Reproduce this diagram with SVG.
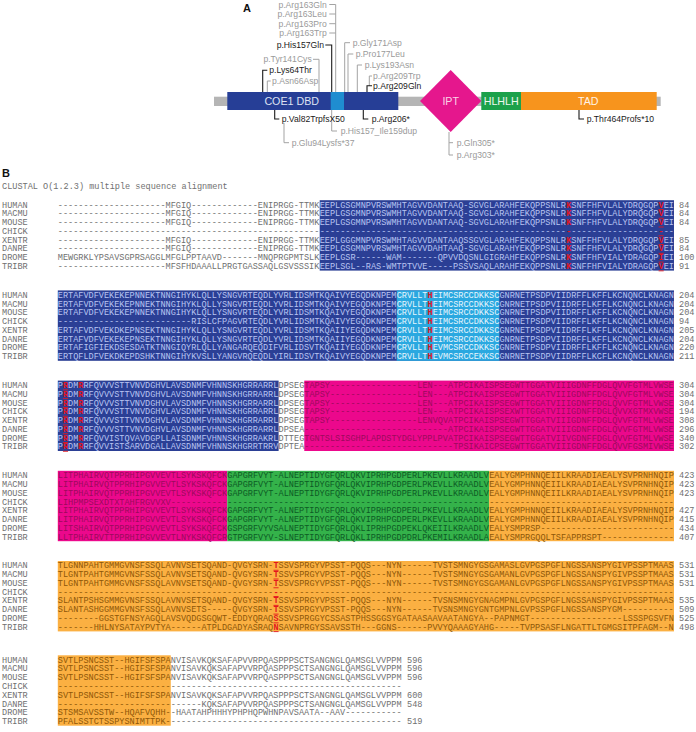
<svg xmlns="http://www.w3.org/2000/svg" width="696" height="732" viewBox="0 0 696 732">
<style>
.sq{font-family:"Liberation Mono","Courier New",monospace;font-size:8.56px;fill:#707070}
.b{fill:#b8c4f2}.c{fill:#e6f5fd}.m{fill:#9c0a5c}.g{fill:#0d5b25}.o{fill:#8e5708}
.r{fill:#e3161e;font-weight:bold}
.mut{font-family:"Liberation Sans",Arial,sans-serif;font-size:8.6px}
.gy{fill:#9a9a9a}.bk{fill:#1a1a1a}
.lg{stroke:#a3a3a3;stroke-width:1;fill:none}
.lk{stroke:#1a1a1a;stroke-width:1.1;fill:none}
.dom{font-family:"Liberation Sans",Arial,sans-serif;font-size:10.7px;text-anchor:middle}
.hd{font-family:"Liberation Sans",Arial,sans-serif;font-size:11px;font-weight:bold;fill:#111}
.bg1{fill:#2b3f95}.bg2{fill:#2aa8e0}.bg3{fill:#ec088c}.bg4{fill:#34b24a}.bg5{fill:#fbb042}
.ul{fill:#e3161e}
</style>
<text class="hd" x="243" y="12">A</text>
<g id="protein">
<rect id="backbone" x="214" y="96.7" width="446.7" height="9.3" fill="#b5b5b5"/>
<g id="dbd"><rect x="227.3" y="92" width="171" height="18" fill="#263e96"/><rect x="330.7" y="92" width="13.3" height="18" fill="#1f8dd0"/><text class="dom" x="291.7" y="104.8" fill="#dde2f3">COE1 DBD</text></g>
<g id="ipt"><polygon points="420,101 450.7,70 481.3,101 450.7,132" fill="#e5178d"/><text class="dom" x="450.7" y="104.8" fill="#f9d3e8">IPT</text></g>
<g id="hlh"><rect x="481.3" y="92" width="39.7" height="18" fill="#1ca14b"/><text class="dom" x="501.2" y="104.8" fill="#eef8f0">HLHLH</text></g>
<g id="tad"><rect x="521" y="92" width="135.7" height="18" fill="#f7941d"/><text class="dom" x="588.3" y="104.8" fill="#fff3e6">TAD</text></g>
</g>
<g id="connectors">
<path class="lg" d="M335.7 4.5V92M329.3 4.5H335.7M329.3 14H335.7M329.3 23.7H335.7M329.3 33H335.7"/>
<path class="lk" d="M325.3 45H331.7V92"/>
<path class="lg" d="M313 59.3H319V92"/>
<path class="lk" d="M267.3 70.3H262.7V92"/>
<path class="lg" d="M270.7 81H267.3V92"/>
<path class="lg" d="M350 42.7H344.7V92"/>
<path class="lg" d="M353.3 54H348V92"/>
<path class="lg" d="M362 65H357.3V92"/>
<path class="lg" d="M372 76H369.3V86"/>
<path class="lk" d="M372 85.7H367V92"/>
<path class="lk" d="M274.7 110V119H279.3"/>
<path class="lg" d="M284 123V142.7H289"/>
<path class="lg" d="M331.7 110V131H337"/>
<path class="lk" d="M363.3 110V119H368.3"/>
<path class="lg" d="M449 132V155H453M449 142.7H453"/>
<path class="lk" d="M579 110V119H584"/>
</g>
<g id="mutations" class="mut">
<text class="gy" x="326.7" y="7.6" text-anchor="end">p.Arg163Gln</text>
<text class="gy" x="326.7" y="17.1" text-anchor="end">p.Arg163Leu</text>
<text class="gy" x="326.7" y="26.8" text-anchor="end">p.Arg163Pro</text>
<text class="gy" x="326.7" y="36.1" text-anchor="end">p.Arg163Trp</text>
<text class="bk" x="324" y="48.1" text-anchor="end">p.His157Gln</text>
<text class="gy" x="311.7" y="62.4" text-anchor="end">p.Tyr141Cys</text>
<text class="bk" x="269.3" y="73.4">p.Lys64Thr</text>
<text class="gy" x="272" y="84.1">p.Asn66Asp</text>
<text class="gy" x="352.7" y="45.8">p.Gly171Asp</text>
<text class="gy" x="355.7" y="57.1">p.Pro177Leu</text>
<text class="gy" x="364.7" y="68.1">p.Lys193Asn</text>
<text class="gy" x="373" y="79.1">p.Arg209Trp</text>
<text class="bk" x="373" y="88.8">p.Arg209Gln</text>
<text class="bk" x="281.7" y="122.1">p.Val82TrpfsX50</text>
<text class="gy" x="291.7" y="145.8">p.Glu94Lysfs*37</text>
<text class="gy" x="340.7" y="134.1">p.His157_Ile159dup</text>
<text class="bk" x="371.7" y="122.1">p.Arg206*</text>
<text class="gy" x="456.7" y="145.8">p.Gln305*</text>
<text class="gy" x="456.7" y="158.1">p.Arg303*</text>
<text class="bk" x="586.7" y="122.1">p.Thr464Profs*10</text>
</g>
<text class="hd" x="2" y="176.6">B</text>
<text class="sq" x="2" y="188.8" fill="#555">CLUSTAL O(1.2.3) multiple sequence alignment</text>

<g id="block1" transform="translate(0,204.7)">
<rect class="bg1" x="319.69" y="-4.5" width="354.31" height="70.4"/>
<g class="sq"><text x="2" y="2.9">HUMAN</text><text x="2" y="11.67">MACMU</text><text x="2" y="20.44">MOUSE</text><text x="2" y="29.21">CHICK</text><text x="2" y="37.98">XENTR</text><text x="2" y="46.75">DANRE</text><text x="2" y="55.52">DROME</text><text x="2" y="64.29">TRIBR</text>
<text x="679.1" y="2.9">84</text><text x="679.1" y="11.67">84</text><text x="679.1" y="20.44">84</text><text x="679.1" y="37.98">85</text><text x="679.1" y="46.75">84</text><text x="679.1" y="55.52">100</text><text x="679.1" y="64.29">91</text></g>
<text class="sq" y="2.9"><tspan x="57.8">---------------------MFGIQ-------------ENIPRGG-TTMK</tspan><tspan class="b" x="319.69">EEPLGSGMNPVRSWMHTAGVVDANTAAQ-SGVGLARAHFEKQPPSNLR</tspan><tspan class="r" x="566.17">K</tspan><tspan class="b" x="571.3">SNFFHFVLALYDRQGQP</tspan><tspan class="r" x="658.6">V</tspan><tspan class="b" x="663.73">EI</tspan></text>
<text class="sq" y="11.67"><tspan x="57.8">---------------------MFGIQ-------------ENIPRGG-TTMK</tspan><tspan class="b" x="319.69">EEPLGSGMNPVRSWMHTAGVVDANTAAQ-SGVGLARAHFEKQPPSNLR</tspan><tspan class="r" x="566.17">K</tspan><tspan class="b" x="571.3">SNFFHFVLALYDRQGQP</tspan><tspan class="r" x="658.6">V</tspan><tspan class="b" x="663.73">EI</tspan></text>
<text class="sq" y="20.44"><tspan x="57.8">---------------------MFGIQ-------------ENIPRGG-TTMK</tspan><tspan class="b" x="319.69">EEPLGSGMNPVRSWMHTAGVVDANTAAQ-SGVGLARAHFEKQPPSNLR</tspan><tspan class="r" x="566.17">K</tspan><tspan class="b" x="571.3">SNFFHFVLALYDRQGQP</tspan><tspan class="r" x="658.6">V</tspan><tspan class="b" x="663.73">EI</tspan></text>
<text class="sq" y="29.21"><tspan x="57.8">---------------------------------------------------</tspan><tspan class="b" x="319.69">------------------------------------------------</tspan><tspan class="r" x="566.17">-</tspan><tspan class="b" x="571.3">-----------------</tspan><tspan class="r" x="658.6">-</tspan><tspan class="b" x="663.73">--</tspan></text>
<text class="sq" y="37.98"><tspan x="57.8">---------------------MFGIQ-------------ENIPRGG-TTMK</tspan><tspan class="b" x="319.69">EEPLGGGMNPVRSWMHTAGVVDANTAAQSSGVGLARAHFEKQPPSNLR</tspan><tspan class="r" x="566.17">K</tspan><tspan class="b" x="571.3">SNFFHFVLALYDRQGQP</tspan><tspan class="r" x="658.6">V</tspan><tspan class="b" x="663.73">EI</tspan></text>
<text class="sq" y="46.75"><tspan x="57.8">---------------------MFGIQ-------------ENIPRGG-TTMK</tspan><tspan class="b" x="319.69">EEPLGSGMNPVRSWMHTAGVVDAHTAAQ-SGVGLARAHYEKQPPSNLR</tspan><tspan class="r" x="566.17">K</tspan><tspan class="b" x="571.3">SNFFHFVLALYDRQGQP</tspan><tspan class="r" x="658.6">V</tspan><tspan class="b" x="663.73">EI</tspan></text>
<text class="sq" y="55.52"><tspan x="57.8">MEWGRKLYPSAVSGPRSAGGLMFGLPPTAAVD-------MNQPRGPMTSLK</tspan><tspan class="b" x="319.69">EEPLGSR------WAM-------QPVVDQSNLGIGRAHFEKQPPSNLR</tspan><tspan class="r" x="566.17">K</tspan><tspan class="b" x="571.3">SNFFHFVIALYDRAGQP</tspan><tspan class="r" x="658.6">I</tspan><tspan class="b" x="663.73">EI</tspan></text>
<text class="sq" y="64.29"><tspan x="57.8">---------------------MFSFHDAAALLPRGTGASSAQLGSVSSSIK</tspan><tspan class="b" x="319.69">EEPLSGL--RAS-WMTPTVVE-----PSSVSAQLARAHFEKQPPSNLR</tspan><tspan class="r" x="566.17">K</tspan><tspan class="b" x="571.3">SNFFHFVIALYDRAGQP</tspan><tspan class="r" x="658.6">V</tspan><tspan class="b" x="663.73">EI</tspan></text>
<g class="ul"><rect x="658.6" y="4.3" width="5.1" height="0.9"/><rect x="658.6" y="13.07" width="5.1" height="0.9"/><rect x="658.6" y="21.84" width="5.1" height="0.9"/><rect x="658.6" y="30.61" width="5.1" height="0.9"/><rect x="658.6" y="39.38" width="5.1" height="0.9"/><rect x="658.6" y="48.15" width="5.1" height="0.9"/><rect x="658.6" y="56.92" width="5.1" height="0.9"/><rect x="658.6" y="65.69" width="5.1" height="0.9"/></g>
</g>

<g id="block2" transform="translate(0,294.9)">
<rect class="bg1" x="57.8" y="-4.5" width="616.2" height="70.4"/>
<rect class="bg2" x="396.71" y="-4.5" width="102.7" height="70.4"/>
<g class="sq"><text x="2" y="2.9">HUMAN</text><text x="2" y="11.67">MACMU</text><text x="2" y="20.44">MOUSE</text><text x="2" y="29.21">CHICK</text><text x="2" y="37.98">XENTR</text><text x="2" y="46.75">DANRE</text><text x="2" y="55.52">DROME</text><text x="2" y="64.29">TRIBR</text>
<text x="679.1" y="2.9">204</text><text x="679.1" y="11.67">204</text><text x="679.1" y="20.44">204</text><text x="679.1" y="29.21">94</text><text x="679.1" y="37.98">205</text><text x="679.1" y="46.75">204</text><text x="679.1" y="55.52">220</text><text x="679.1" y="64.29">211</text></g>
<text class="sq" y="2.9"><tspan class="b" x="57.8">ERTAFVDFVEKEKEPNNEKTNNGIHYKLQLLYSNGVRTEQDLYVRLIDSMTKQAIVYEGQDKNPEM</tspan><tspan class="c" x="396.71">CRVLLT</tspan><tspan class="r" x="427.52">H</tspan><tspan class="c" x="432.66">EIMCSRCCDKKSC</tspan><tspan class="b" x="499.41">GNRNETPSDPVIIDRFFLKFFLKCNQNCLKNAGN</tspan></text>
<text class="sq" y="11.67"><tspan class="b" x="57.8">ERTAFVDFVEKEKEPNNEKTNNGIHYKLQLLYSNGVRTEQDLYVRLIDSMTKQAIVYEGQDKNPEM</tspan><tspan class="c" x="396.71">CRVLLT</tspan><tspan class="r" x="427.52">H</tspan><tspan class="c" x="432.66">EIMCSRCCDKKSC</tspan><tspan class="b" x="499.41">GNRNETPSDPVIIDRFFLKFFLKCNQNCLKNAGN</tspan></text>
<text class="sq" y="20.44"><tspan class="b" x="57.8">ERTAFVDFVEKEKEPNNEKTNNGIHYKLQLLYSNGVRTEQDLYVRLIDSMTKQAIVYEGQDKNPEM</tspan><tspan class="c" x="396.71">CRVLLT</tspan><tspan class="r" x="427.52">H</tspan><tspan class="c" x="432.66">EIMCSRCCDKKSC</tspan><tspan class="b" x="499.41">GNRNETPSDPVIIDRFFLKFFLKCNQNCLKNAGN</tspan></text>
<text class="sq" y="29.21"><tspan class="b" x="57.8">--------------------------</tspan><tspan class="b" x="191.31">RISLCFPAGVRTEQDLYVRLIDSMTKQAIVYEGQDKNPEM</tspan><tspan class="c" x="396.71">CRVLLT</tspan><tspan class="r" x="427.52">H</tspan><tspan class="c" x="432.66">EIMCSRCCDKKSC</tspan><tspan class="b" x="499.41">GNRNETPSDPVIIDRFFLKFFLKCNQNCLKNAGN</tspan></text>
<text class="sq" y="37.98"><tspan class="b" x="57.8">ERTAFVDFVEKDKEPNSEKTNNGIHYKLQLLYSNGVRTEQDLYVRLIDSMTKQAIIYEGQDKNPEM</tspan><tspan class="c" x="396.71">CRVLLT</tspan><tspan class="r" x="427.52">H</tspan><tspan class="c" x="432.66">EIMCSRCCDKKSC</tspan><tspan class="b" x="499.41">GNRNETPSDPVIIDRFFLKFFLKCNQNCLKNAGN</tspan></text>
<text class="sq" y="46.75"><tspan class="b" x="57.8">ERTAFVDFVEKEKEPNSEKTNNGIHYKLQLLYSNGVRTEQDLYVRLIDSMTKQAIIYEGQDKNPEM</tspan><tspan class="c" x="396.71">CRVLLT</tspan><tspan class="r" x="427.52">H</tspan><tspan class="c" x="432.66">EIMCSRCCDKKSC</tspan><tspan class="b" x="499.41">GNRNETPSDPVIIDRFFLKFFLKCNQNCLKNAGN</tspan></text>
<text class="sq" y="55.52"><tspan class="b" x="57.8">ERTAFIGFIEKDSESDATKTNNGIQYRLQLLYANGARQEQDIFVRLIDSVTKQAIIYEGQDKNPEM</tspan><tspan class="c" x="396.71">CRVLLT</tspan><tspan class="r" x="427.52">H</tspan><tspan class="c" x="432.66">EVMCSRCCDKKSC</tspan><tspan class="b" x="499.41">GNRNETPSDPVIIDRFFLKFFLKCNQNCLKNAGN</tspan></text>
<text class="sq" y="64.29"><tspan class="b" x="57.8">ERTQFLDFVEKDKEPDSHKTNNGIHYKVSLLYANGVRQEQDLYIRLIDSVTKQAIVYEGQDKNPEM</tspan><tspan class="c" x="396.71">CRVLLT</tspan><tspan class="r" x="427.52">H</tspan><tspan class="c" x="432.66">EVMCSRCCEKKSC</tspan><tspan class="b" x="499.41">GNRNETPSDPVIIDRFFLKCFLKCNQNCLKNAGN</tspan></text>
</g>

<g id="block3" transform="translate(0,385.1)">
<rect class="bg1" x="57.8" y="-4.5" width="220.81" height="70.4"/>
<rect class="bg3" x="304.28" y="-4.5" width="369.72" height="70.4"/>
<g class="sq"><text x="2" y="2.9">HUMAN</text><text x="2" y="11.67">MACMU</text><text x="2" y="20.44">MOUSE</text><text x="2" y="29.21">CHICK</text><text x="2" y="37.98">XENTR</text><text x="2" y="46.75">DANRE</text><text x="2" y="55.52">DROME</text><text x="2" y="64.29">TRIBR</text>
<text x="679.1" y="2.9">304</text><text x="679.1" y="11.67">304</text><text x="679.1" y="20.44">304</text><text x="679.1" y="29.21">194</text><text x="679.1" y="37.98">308</text><text x="679.1" y="46.75">296</text><text x="679.1" y="55.52">340</text><text x="679.1" y="64.29">302</text></g>
<text class="sq" y="2.9"><tspan class="b" x="57.8">P</tspan><tspan class="r" x="62.94">R</tspan><tspan class="b" x="68.07">DM</tspan><tspan class="r" x="78.34">R</tspan><tspan class="b" x="83.48">RFQVVVSTTVNVDGHVLAVSDNMFVHNNSKHGRRARRL</tspan><tspan x="278.61">DPSEG</tspan><tspan class="m" x="304.28">TAPSY</tspan><tspan class="m" x="329.96">-----------------</tspan><tspan class="m" x="417.25">LEN---ATPCIKAISPSEGWTTGGATVIIIGDNFFDGLQVVFGTMLVWSE</tspan></text>
<text class="sq" y="11.67"><tspan class="b" x="57.8">P</tspan><tspan class="r" x="62.94">R</tspan><tspan class="b" x="68.07">DM</tspan><tspan class="r" x="78.34">R</tspan><tspan class="b" x="83.48">RFQVVVSTTVNVDGHVLAVSDNMFVHNNSKHGRRARRL</tspan><tspan x="278.61">DPSEG</tspan><tspan class="m" x="304.28">TAPSY</tspan><tspan class="m" x="329.96">-----------------</tspan><tspan class="m" x="417.25">LEN---ATPCIKAISPSEGWTTGGATVIIIGDNFFDGLQVVFGTMLVWSE</tspan></text>
<text class="sq" y="20.44"><tspan class="b" x="57.8">P</tspan><tspan class="r" x="62.94">R</tspan><tspan class="b" x="68.07">DM</tspan><tspan class="r" x="78.34">R</tspan><tspan class="b" x="83.48">RFQVVVSTTVNVDGHVLAVSDNMFVHNNSKHGRRARRL</tspan><tspan x="278.61">DPSEG</tspan><tspan class="m" x="304.28">TAPSY</tspan><tspan class="m" x="329.96">-----------------</tspan><tspan class="m" x="417.25">LEN---ATPCIKAISPSEGWTTGGATVIIIGDNFFDGLQVVFGTMLVWSE</tspan></text>
<text class="sq" y="29.21"><tspan class="b" x="57.8">P</tspan><tspan class="r" x="62.94">R</tspan><tspan class="b" x="68.07">DM</tspan><tspan class="r" x="78.34">R</tspan><tspan class="b" x="83.48">RFQVVVSTTVNVDGHVLAVSDNMFVHNNSKHGRRARRL</tspan><tspan x="278.61">DPSEG</tspan><tspan class="m" x="304.28">TAPSY</tspan><tspan class="m" x="329.96">-----------------</tspan><tspan class="m" x="417.25">LEN---ATPCIKAISPSEXWTTGGATVIIIGDNFFDGLQVVXGTMXVWSE</tspan></text>
<text class="sq" y="37.98"><tspan class="b" x="57.8">P</tspan><tspan class="r" x="62.94">R</tspan><tspan class="b" x="68.07">DM</tspan><tspan class="r" x="78.34">R</tspan><tspan class="b" x="83.48">RFQVVVSTTVNVDGHVLAVSDNMFVHNNSKHGRRARRL</tspan><tspan x="278.61">DPSEG</tspan><tspan class="m" x="304.28">TAPSY</tspan><tspan class="m" x="329.96">-----------------</tspan><tspan class="m" x="417.25">LENVQVATPCIKAISPSEGWTTGGATVIIIGDNFFDGLQVVFGTMLVWSE</tspan></text>
<text class="sq" y="46.75"><tspan class="b" x="57.8">P</tspan><tspan class="r" x="62.94">R</tspan><tspan class="b" x="68.07">DM</tspan><tspan class="r" x="78.34">R</tspan><tspan class="b" x="83.48">RFQVVVSTTVNVDGHVLAVSDNMFVHNNSKHGRRARRL</tspan><tspan x="278.61">DPSEA</tspan><tspan class="m" x="304.28">----------------------------</tspan><tspan class="m" x="448.06">ATPCIKAISPSEGWTTGGATVIIIGDNFFDGLQVVFGTMLVWSE</tspan></text>
<text class="sq" y="55.52"><tspan class="b" x="57.8">P</tspan><tspan class="r" x="62.94">R</tspan><tspan class="b" x="68.07">DM</tspan><tspan class="r" x="78.34">R</tspan><tspan class="b" x="83.48">RFQVVISTQVAVDGPLLAISDNMFVHNNSKHGRRAKRL</tspan><tspan x="278.61">DTTEG</tspan><tspan class="m" x="304.28">TGNTSLSISGHPLAPDSTYDGLYPPLPV</tspan><tspan class="m" x="448.06">ATPCIKAISPSEGWTTGGATVIIVGDNFFDGLQVVFGTMLVWSE</tspan></text>
<text class="sq" y="64.29"><tspan class="b" x="57.8">P</tspan><tspan class="r" x="62.94">R</tspan><tspan class="b" x="68.07">DM</tspan><tspan class="r" x="78.34">R</tspan><tspan class="b" x="83.48">RFQVVISTSARVDGALLAVSDNMFVHNNSKHGRRTRRV</tspan><tspan x="278.61">DPTEA</tspan><tspan class="m" x="304.28">-----------------------------</tspan><tspan class="m" x="453.2">TPSIKAICPSEGWTTGGATVIIIGDNFFDGLQVVFGSMIVWSE</tspan></text>
<g class="ul"><rect x="62.94" y="4.3" width="5.1" height="0.9"/><rect x="62.94" y="13.07" width="5.1" height="0.9"/><rect x="62.94" y="21.84" width="5.1" height="0.9"/><rect x="62.94" y="30.61" width="5.1" height="0.9"/><rect x="62.94" y="39.38" width="5.1" height="0.9"/><rect x="62.94" y="48.15" width="5.1" height="0.9"/><rect x="62.94" y="56.92" width="5.1" height="0.9"/><rect x="62.94" y="65.69" width="5.1" height="0.9"/></g>
</g>

<g id="block4" transform="translate(0,475.3)">
<rect class="bg3" x="57.8" y="-4.5" width="169.46" height="70.4"/>
<rect class="bg4" x="227.26" y="-4.5" width="261.88" height="70.4"/>
<rect class="bg5" x="489.14" y="-4.5" width="184.86" height="70.4"/>
<g class="sq"><text x="2" y="2.9">HUMAN</text><text x="2" y="11.67">MACMU</text><text x="2" y="20.44">MOUSE</text><text x="2" y="29.21">CHICK</text><text x="2" y="37.98">XENTR</text><text x="2" y="46.75">DANRE</text><text x="2" y="55.52">DROME</text><text x="2" y="64.29">TRIBR</text>
<text x="679.1" y="2.9">423</text><text x="679.1" y="11.67">423</text><text x="679.1" y="20.44">423</text><text x="679.1" y="37.98">427</text><text x="679.1" y="46.75">415</text><text x="679.1" y="55.52">434</text><text x="679.1" y="64.29">407</text></g>
<text class="sq" y="2.9"><tspan class="m" x="57.8">LITPHAIRVQTPPRHIPGVVEVTLSYKSKQFCK</tspan><tspan class="g" x="227.26">GAPGRFVYT-ALNEPTIDYGFQRLQKVIPRHPGDPERLPKEVLLKRAADLV</tspan><tspan class="o" x="489.14">EALYGMPHNNQEIILKRAADIAEALYSVPRNHNQIP</tspan></text>
<text class="sq" y="11.67"><tspan class="m" x="57.8">LITPHAIRVQTPPRHIPGVVEVTLSYKSKQFCK</tspan><tspan class="g" x="227.26">GAPGRFVYT-ALNEPTIDYGFQRLQKVIPRHPGDPERLPKEVLLKRAADLV</tspan><tspan class="o" x="489.14">EALYGMPHNNQEIILKRAADIAEALYSVPRNHNQIP</tspan></text>
<text class="sq" y="20.44"><tspan class="m" x="57.8">LITPHAIRVQTPPRHIPGVVEVTLSYKSKQFCK</tspan><tspan class="g" x="227.26">GAPGRFVYT-ALNEPTIDYGFQRLQKVIPRHPGDPERLPKEVLLKRAADLV</tspan><tspan class="o" x="489.14">EALYGMPHNNQEIILKRAADIAEALYSVPRNHNQIP</tspan></text>
<text class="sq" y="29.21"><tspan class="m" x="57.8">LIHPMPSEXDTXTAHFRGVVXV-----------</tspan><tspan class="g" x="227.26">---------------------------------------------------</tspan><tspan class="o" x="489.14">------------------------------------</tspan></text>
<text class="sq" y="37.98"><tspan class="m" x="57.8">LITPHAIRVQTPPRHIPGVVEVTLSYKSKQFCK</tspan><tspan class="g" x="227.26">GAPGRFVYT-ALNEPTIDYGFQRLQKVIPRHPGDPERLPKEVLLKRAADLV</tspan><tspan class="o" x="489.14">EALYGMPHNNQEIILKRAADIAEALYSVPRNHNQIP</tspan></text>
<text class="sq" y="46.75"><tspan class="m" x="57.8">LITPHAIRVQTPPRHIPGVVEVTLSYKSKQFCK</tspan><tspan class="g" x="227.26">GAPGRFVYT-ALNEPTIDYGFQRLQKVIPRHPGDPERLPKEVLLKRAADLV</tspan><tspan class="o" x="489.14">EALYGMPHNNQEIILKRAADIAEALYSVPRNHNQIP</tspan></text>
<text class="sq" y="55.52"><tspan class="m" x="57.8">LITSHAIRVQTPPRHIPGVVEVTLSYKSKQFCK</tspan><tspan class="g" x="227.26">GSPGRFVYVSALNEPTIDYGFQRLQKLIPRHPGDPEKLQKEIILKRAADLV</tspan><tspan class="o" x="489.14">EALYSMPRSP--------------------------</tspan></text>
<text class="sq" y="64.29"><tspan class="m" x="57.8">LLTPHAIRVTTPPRHIPGVVEVTLNYKSKQFCR</tspan><tspan class="g" x="227.26">GTPGRFVYV-SLNEPTIDYGFQRLQKLIPRHPGDPDRLPKEMILKRAADLA</tspan><tspan class="o" x="489.14">EALYSMPRGQQLTSFAPPRSPT--------------</tspan></text>
</g>

<g id="block5" transform="translate(0,565.5)">
<rect class="bg5" x="57.8" y="-4.5" width="616.2" height="70.4"/>
<g class="sq"><text x="2" y="2.9">HUMAN</text><text x="2" y="11.67">MACMU</text><text x="2" y="20.44">MOUSE</text><text x="2" y="29.21">CHICK</text><text x="2" y="37.98">XENTR</text><text x="2" y="46.75">DANRE</text><text x="2" y="55.52">DROME</text><text x="2" y="64.29">TRIBR</text>
<text x="679.1" y="2.9">531</text><text x="679.1" y="11.67">531</text><text x="679.1" y="20.44">531</text><text x="679.1" y="37.98">535</text><text x="679.1" y="46.75">509</text><text x="679.1" y="55.52">525</text><text x="679.1" y="64.29">498</text></g>
<text class="sq" y="2.9"><tspan class="o" x="57.8">TLGNNPAHTGMMGVNSFSSQLAVNVSETSQAND-QVGYSRN-</tspan><tspan class="r" x="273.47">T</tspan><tspan class="o" x="278.61">SSVSPRGYVPSST-PQQS---NYN------TVSTSMNGYGSGAMASLGVPGSPGFLNGSSANSPYGIVPSSPTMAAS</tspan></text>
<text class="sq" y="11.67"><tspan class="o" x="57.8">TLGNTPAHTGMMGVNSFSSQLAVNVSETSQAND-QVGYSRN-</tspan><tspan class="r" x="273.47">T</tspan><tspan class="o" x="278.61">SSVSPRGYVPSST-PQQS---NYN------TVSTSMNGYGSGAMANLGVPGSPGFLNGSSANSPYGIVPSSPTMAAS</tspan></text>
<text class="sq" y="20.44"><tspan class="o" x="57.8">TLGNTPAHTGMMGVNSFSSQLAVNVSETSQAND-QVGYSRN-</tspan><tspan class="r" x="273.47">T</tspan><tspan class="o" x="278.61">SSVSPRGYVPSST-PQQS---NYN------TVSTSMNGYGSGAMANLGVPGSPGFLNGSSANSPYGIVPSSPTMAAS</tspan></text>
<text class="sq" y="29.21"><tspan class="o" x="57.8">------------------------------------------</tspan><tspan class="r" x="273.47">-</tspan><tspan class="o" x="278.61">-----------------------------------------------------------------------------</tspan></text>
<text class="sq" y="37.98"><tspan class="o" x="57.8">SLANTPSHSGMMGVNSFSSQLAVNVSETSQAND-QVGYSRN-</tspan><tspan class="r" x="273.47">T</tspan><tspan class="o" x="278.61">SSVSPRGYVPSST-PQQS---NYN------TVSNSMNGYGNAGMPNLGVPGSPGFLNGSSANSPYGIVPSSPTMAAS</tspan></text>
<text class="sq" y="46.75"><tspan class="o" x="57.8">SLANTASHGGMMGVNSFSSQLAVNVSETS-----QVGYSRN-</tspan><tspan class="r" x="273.47">T</tspan><tspan class="o" x="278.61">SSVSPRGYVPSST-PQQS---NYN------TVSNSMNGYGNTGMPNLGVPSSPGFLNGSSANSPYGM----------</tspan></text>
<text class="sq" y="55.52"><tspan class="o" x="57.8">--------GGSTGFNSYAGQLAVSVQDGSGQWT-EDDYQRAQ</tspan><tspan class="r" x="273.47">S</tspan><tspan class="o" x="278.61">SSVSPRGGYCSSASTPHSSGGSYGATAASAAVAATANGYA--PAPNMGT------------------</tspan><tspan class="o" x="622.65">LSSSPGSVFN</tspan></text>
<text class="sq" y="64.29"><tspan class="o" x="57.8">-------HHLNYSATAYPVTYA------ATPLDGADYASRAQ</tspan><tspan class="r" x="273.47">N</tspan><tspan class="o" x="278.61">SAVNPRGYSSAVSSTH---GGNS------PVVYQAAAGYAHG-----TVPPSASFLNGATTLTGMGSITPFAGM--N</tspan></text>
<g class="ul"><rect x="273.47" y="4.3" width="5.1" height="0.9"/><rect x="273.47" y="13.07" width="5.1" height="0.9"/><rect x="273.47" y="21.84" width="5.1" height="0.9"/><rect x="273.47" y="30.61" width="5.1" height="0.9"/><rect x="273.47" y="39.38" width="5.1" height="0.9"/><rect x="273.47" y="48.15" width="5.1" height="0.9"/><rect x="273.47" y="56.92" width="5.1" height="0.9"/><rect x="273.47" y="65.69" width="5.1" height="0.9"/></g>
</g>

<g id="block6" transform="translate(0,659.8)">
<rect class="bg5" x="57.8" y="-4.5" width="112.97" height="70.4"/>
<g class="sq"><text x="2" y="2.9">HUMAN</text><text x="2" y="11.67">MACMU</text><text x="2" y="20.44">MOUSE</text><text x="2" y="29.21">CHICK</text><text x="2" y="37.98">XENTR</text><text x="2" y="46.75">DANRE</text><text x="2" y="55.52">DROME</text><text x="2" y="64.29">TRIBR</text>
<text x="407" y="2.9">596</text><text x="407" y="11.67">596</text><text x="407" y="20.44">596</text><text x="407" y="37.98">600</text><text x="407" y="46.75">548</text><text x="407" y="64.29">519</text></g>
<text class="sq" y="2.9"><tspan class="o" x="57.8">SVTLPSNCSST--HGIFSFSPA</tspan><tspan x="170.77">NVISAVKQKSAFAPVVRPQASPPPSCTSANGNGLQAMSGLVVPPM</tspan></text>
<text class="sq" y="11.67"><tspan class="o" x="57.8">SVTLPSNCSST--HGIFSFSPA</tspan><tspan x="170.77">NVISAVKQKSAFAPVVRPQASPPPSCTSANGNGLQAMSGLVVPPM</tspan></text>
<text class="sq" y="20.44"><tspan class="o" x="57.8">SVTLPSNCSST--HGIFSFSPA</tspan><tspan x="170.77">NVISAVKQKSAFAPVVRPQASPPPSCTSANGNGLQAMSGLVVPPM</tspan></text>
<text class="sq" y="29.21"><tspan class="o" x="57.8">----------------------</tspan><tspan x="170.77">---------------------------------------------</tspan></text>
<text class="sq" y="37.98"><tspan class="o" x="57.8">SVTLPSNCSST--HGIFSFSPA</tspan><tspan x="170.77">NVISAVKQKSAFAPVVRPQASPPPSCTSANGNGLQAMSGLVVPPM</tspan></text>
<text class="sq" y="46.75"><tspan class="o" x="57.8">----------------------</tspan><tspan x="170.77">------KQKSAFAPVVRPQASPPPSCTSANGNGLQAMSGLVVPPM</tspan></text>
<text class="sq" y="55.52"><tspan class="o" x="57.8">STSMSAVSSTW--HQAFVQHH-</tspan><tspan x="170.77">-HAATAHPHHHYPHPHQPWHNPAVSAATA--AAV-----------</tspan></text>
<text class="sq" y="64.29"><tspan class="o" x="57.8">PFALSSTCTSSPYSNIMTTPK-</tspan><tspan x="170.77">---------------------------------------------</tspan></text>
</g>
</svg>
